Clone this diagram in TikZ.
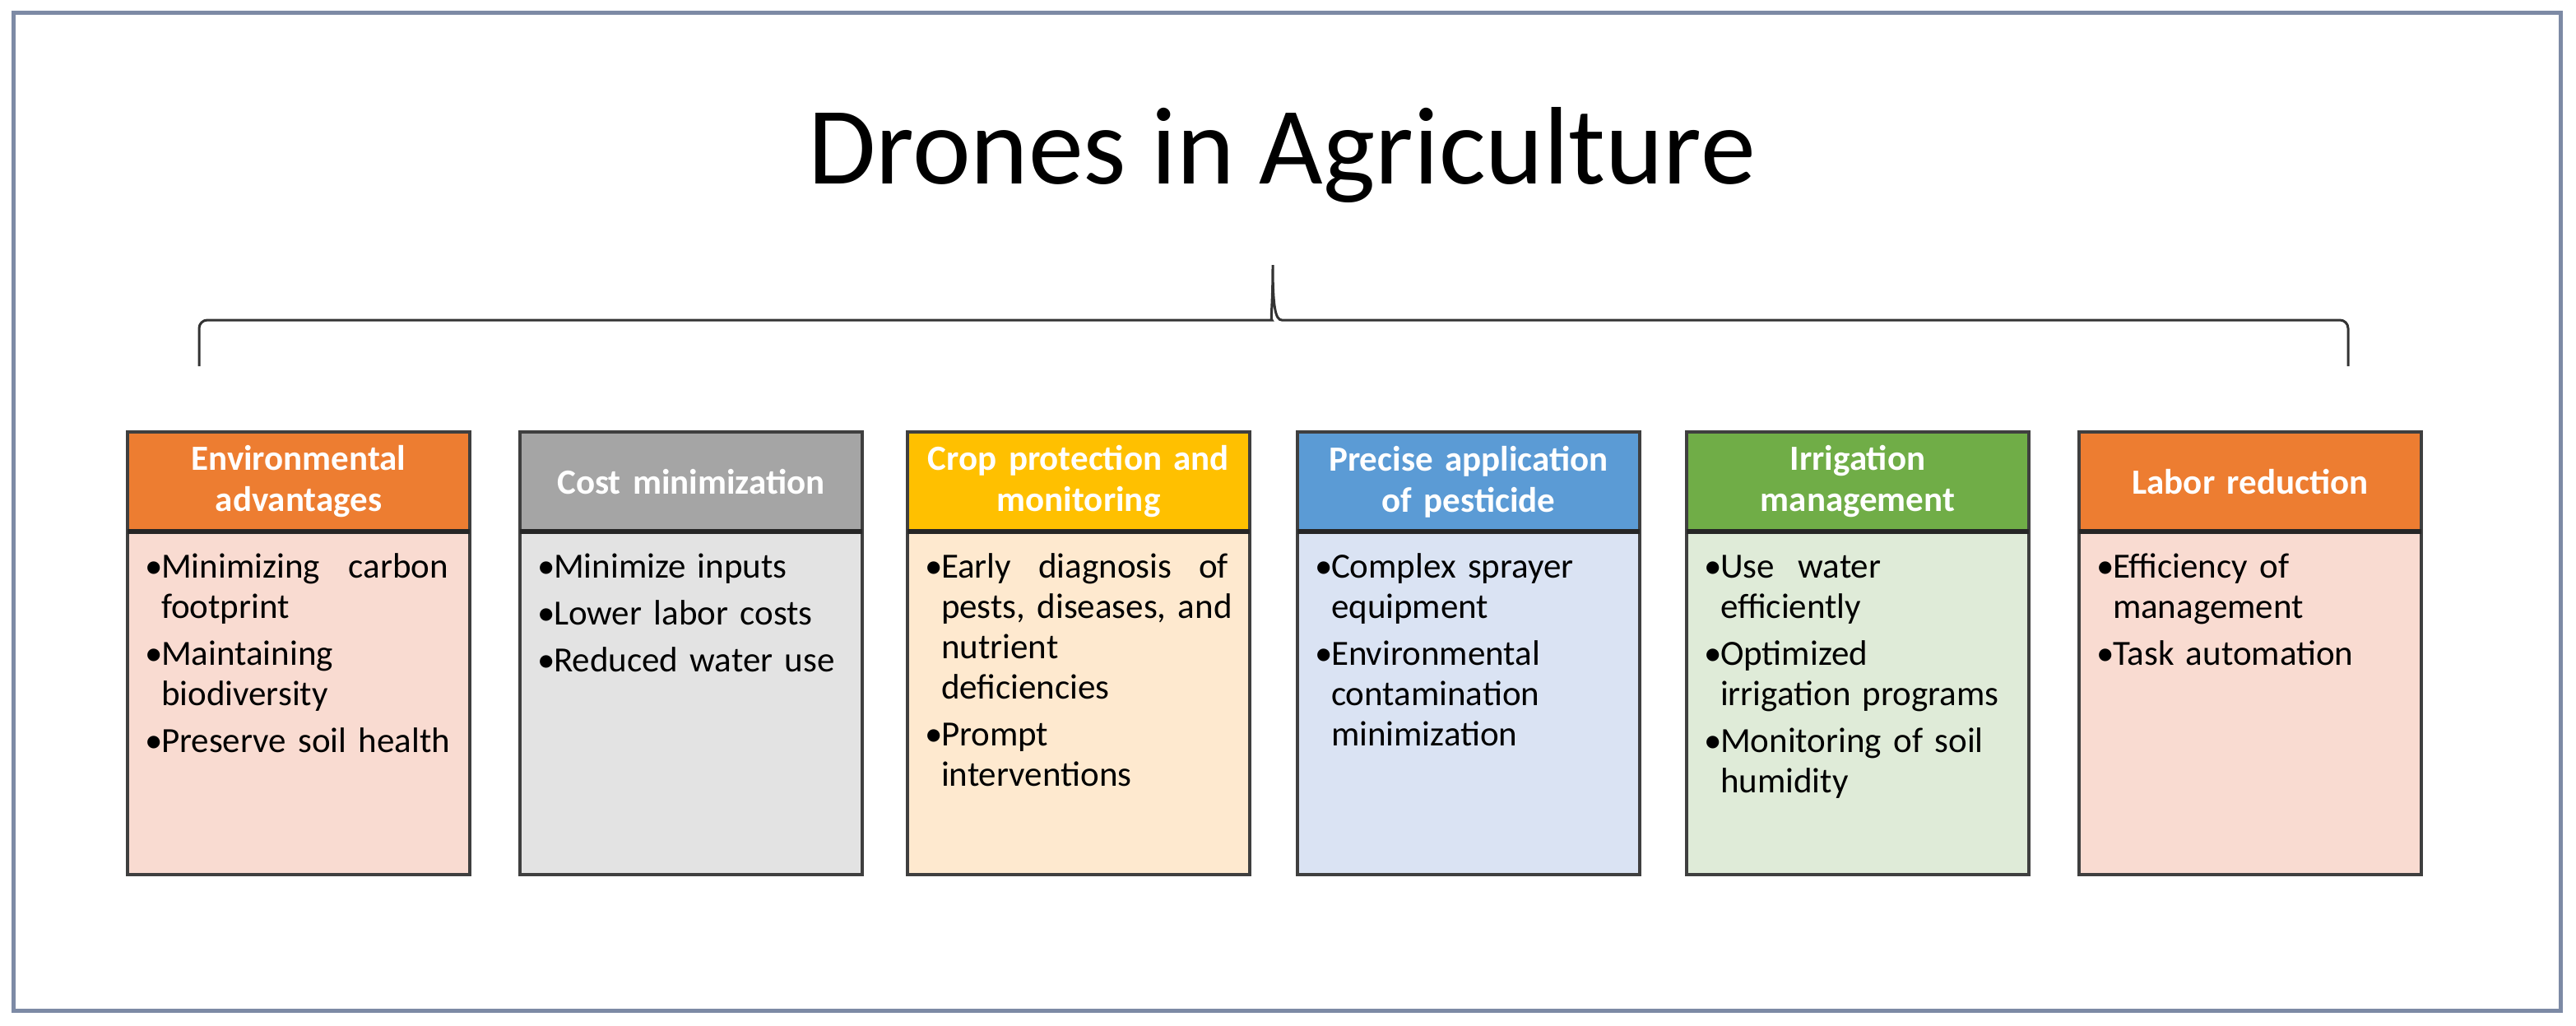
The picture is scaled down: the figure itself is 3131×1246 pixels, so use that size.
\documentclass[tikz,border=0pt]{standalone}
\usepackage{fontspec}
\setmainfont{Carlito}
\definecolor{orH}{HTML}{ED7D31}
\definecolor{orB}{HTML}{F9DBD1}
\definecolor{grH}{HTML}{A5A5A5}
\definecolor{grB}{HTML}{E3E3E3}
\definecolor{goH}{HTML}{FFC000}
\definecolor{goB}{HTML}{FEE9CF}
\definecolor{blH}{HTML}{5B9BD5}
\definecolor{blB}{HTML}{DAE3F3}
\definecolor{gnH}{HTML}{70AD47}
\definecolor{gnB}{HTML}{DFEBD8}
\definecolor{frameC}{RGB}{125,138,165}
\definecolor{edgeC}{HTML}{3F3F3F}
\newcommand{\bu}{\leavevmode\llap{\makebox[5pt][l]{\textbullet}}}
\newcommand{\itemgap}{\\[2pt]}
\newcommand{\jline}[1]{\hbox to 87.25pt{#1}}
\newcommand{\card}[6]{%
  \node[headbox, fill=#3, anchor=north west] (h#1) at (#2,525) {#5};
  \node[bodybox, fill=#4, anchor=north west] (b#1) at (#2,646) {};
  \draw[sepline] (h#1.south west) -- (h#1.south east);
  \node[bodytext, anchor=base west] (t#1) at (#2+41,702) {#6};
}
\begin{document}
\begin{tikzpicture}[x=0.25pt,y=-0.25pt,
  headbox/.style={draw=edgeC, line width=1pt, outer sep=0pt, inner sep=0pt,
    minimum width=104pt, minimum height=30.25pt, text width=100pt, align=center,
    text=white, font=\fontsize{10.75pt}{12.5pt}\selectfont\bfseries},
  bodybox/.style={draw=edgeC, line width=1pt, outer sep=0pt, inner sep=0pt,
    minimum width=104pt, minimum height=104.25pt},
  sepline/.style={draw=black!85, line width=1.3pt},
  bodytext/.style={inner sep=0pt, outer sep=0pt, text width=95pt, align=left,
    font=\fontsize{10.75pt}{12.25pt}\selectfont},
  brace/.style={draw=black!80, line width=0.75pt},
]
\useasboundingbox (0,0) rectangle (3131,1246);
\fill[white] (0,0) rectangle (3131,1246);
\draw[frameC, line width=1.25pt] (16,15) rectangle (3112,1228);

\node[anchor=base, inner sep=0pt, font=\fontsize{33.5pt}{40pt}\selectfont] (title) at (1558,223) {Drones in Agriculture};

\coordinate (bl) at (242,445);
\coordinate (br) at (2854,445);
\coordinate (bp) at (1547,322);
\draw[brace, rounded corners=2.5pt] (bl) -- (242,389) -- (1536,389) [sharp corners]
  .. controls (1544,389) and (1547,372) .. (bp)
  .. controls (1547,372) and (1550,389) .. (1558,389) [rounded corners=2.5pt]
  -- (2854,389) -- (br);

\card{1}{155}{orH}{orB}{Environmental\\advantages}{%
  \bu\jline{Minimizing\hfill carbon}\\ footprint\itemgap
  \bu Maintaining\\ biodiversity\itemgap
  \bu Preserve soil health}
\card{2}{632}{grH}{grB}{Cost minimization}{%
  \bu Minimize inputs\itemgap
  \bu Lower labor costs\itemgap
  \bu Reduced water use}
\card{3}{1103}{goH}{goB}{Crop protection and\\monitoring}{%
  \bu\jline{Early\hfill diagnosis\hfill of}\\ pests, diseases, and\\ nutrient\\ deficiencies\itemgap
  \bu Prompt\\ interventions}
\card{4}{1577}{blH}{blB}{Precise application\\of pesticide}{%
  \bu Complex sprayer\\ equipment\itemgap
  \bu Environmental\\ contamination\\ minimization}
\card{5}{2050}{gnH}{gnB}{Irrigation\\management}{%
  \bu Use\ \ water\\ efficiently\itemgap
  \bu Optimized\\ irrigation programs\itemgap
  \bu Monitoring of soil\\ humidity}
\card{6}{2527}{orH}{orB}{Labor reduction}{%
  \bu Efficiency of\\ management\itemgap
  \bu Task automation}
\end{tikzpicture}
\end{document}
